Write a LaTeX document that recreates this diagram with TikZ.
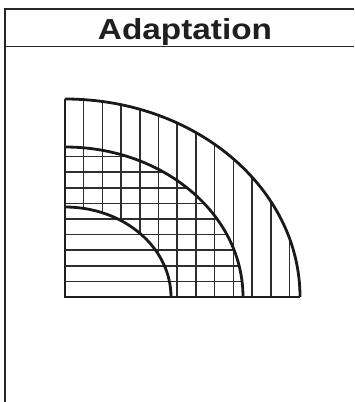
\documentclass[tikz,border=0pt]{standalone}
\usepackage{fontspec}
\setmainfont{Liberation Sans}

\begin{document}
\begin{tikzpicture}[
	x=1pt, y=1pt,
	frame/.style={line width=1.9pt, draw=black!85},
	arcline/.style={line width=2.8pt, draw=black!90},
	edgeline/.style={line width=2.1pt, draw=black!88},
	gridline/.style={line width=1.6pt, draw=black!82},
	title/.style={font=\fontsize{29}{30}\bfseries\selectfont, text=black!88, inner sep=0pt}
]
\useasboundingbox (-65,-105) rectangle (289,297);

% Rahmen
\draw[frame] (289,288) -- (-60,288) -- (-60,-105);
\draw[frame] (-60,250.5) -- (289,250.5);
\node[title, anchor=base] (titel) at (120,257.7) {\scalebox{1.15}[1]{Adaptation}};

% Senkrechte Linien im aeusseren Ring
\begin{scope}[even odd rule]
	\clip (0,0) -- (235,0) arc[start angle=0, end angle=90, x radius=235, y radius=198] -- cycle
		(0,0) -- (106,0) arc[start angle=0, end angle=90, x radius=106, y radius=90] -- cycle;
	\foreach \k in {1,...,12}
		\draw[gridline] (18.7*\k,0) -- (18.7*\k,200);
\end{scope}

% Waagerechte Linien im mittleren Bereich
\begin{scope}
	\clip (0,0) -- (178,0) arc[start angle=0, end angle=90, x radius=178, y radius=150] -- cycle;
	\foreach \k in {1,...,9}
		\draw[gridline] (0,15.6*\k) -- (180,15.6*\k);
\end{scope}

% Boegen
\draw[arcline] (235,0) arc[start angle=0, end angle=90, x radius=235, y radius=198];
\draw[arcline] (178,0) arc[start angle=0, end angle=90, x radius=178, y radius=150];
\draw[arcline] (106,0) arc[start angle=0, end angle=90, x radius=106, y radius=90];
\draw[edgeline] (0,198) -- (0,0) -- (235,0);
\end{tikzpicture}
\end{document}
